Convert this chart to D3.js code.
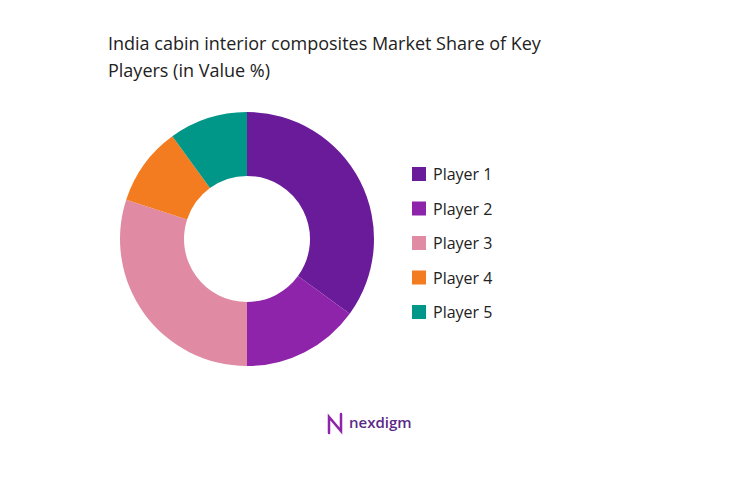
<!DOCTYPE html>
<html>
<head>
<meta charset="utf-8">
<script src="https://cdn.jsdelivr.net/npm/d3@7"></script>
<style>
  body { margin: 0; background: #fff; }
  text { font-family: "Open Sans", "Noto Sans", sans-serif; }
</style>
</head>
<body>
<svg id="chart" width="749" height="479"></svg>
<script>
var players = ["Player 1", "Player 2", "Player 3", "Player 4", "Player 5"];
var shares = [35, 15, 30, 10, 10];
var colors = ["#6a1b9a", "#8e24aa", "#e08ba3", "#f47c20", "#009688"];

var svg = d3.select("#chart");

// title
var title = svg.append("text").attr("x", 108).attr("y", 50)
  .attr("font-size", 18).attr("fill", "#222");
title.append("tspan").attr("x", 108).text("India cabin interior composites Market Share of Key");
title.append("tspan").attr("x", 108).attr("dy", 27).text("Players (in Value %)");

// donut
var pie = d3.pie().sort(null).value(function (d) { return d; });
var arc = d3.arc().innerRadius(63).outerRadius(127);
var g = svg.append("g").attr("transform", "translate(247,239)");
g.selectAll("path")
  .data(pie(shares))
  .enter().append("path")
  .attr("d", arc)
  .attr("fill", function (d, i) { return colors[i]; });

// legend
var legendY = d3.scalePoint().domain(players).range([174, 312]);
var leg = svg.selectAll(".leg").data(players).enter().append("g")
  .attr("transform", function (d) { return "translate(412," + legendY(d) + ")"; });
leg.append("rect").attr("x", 0).attr("y", -7).attr("width", 14).attr("height", 14)
  .attr("fill", function (d, i) { return colors[i]; });
leg.append("text").attr("x", 21).attr("y", 6).attr("font-size", 16).attr("fill", "#222")
  .text(function (d) { return d; });

// logo
var logo = svg.append("g").attr("transform", "translate(327,423)");
logo.append("path").attr("d", "M2,10 L2,-6 L14,8 L14,-9")
  .attr("fill", "none").attr("stroke", "#8e24aa").attr("stroke-width", 2.5)
  .attr("stroke-linecap", "round");
logo.append("text").attr("x", 22).attr("y", 5).attr("font-size", 15)
  .attr("font-weight", 600).attr("fill", "#5b2a86").text("nexdigm");
</script>
</body>
</html>
